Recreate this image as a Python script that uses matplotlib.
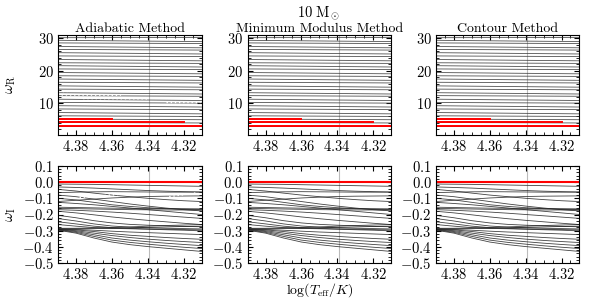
import matplotlib
matplotlib.use("Agg")
import matplotlib.pyplot as plt
from matplotlib.ticker import MultipleLocator

plt.rcParams['font.family'] = 'serif'
plt.rcParams['font.serif'] = ['cmr10']
plt.rcParams['mathtext.fontset'] = 'cm'
plt.rcParams['axes.formatter.use_mathtext'] = True
plt.rcParams['font.size'] = 10.5

methods = ["Adiabatic Method", "Minimum Modulus Method", "Contour Method"]

# log Teff samples (left to right on the inverted axis)
logT = [4.39, 4.38, 4.37, 4.36, 4.35, 4.34, 4.33, 4.32, 4.31]
logT_mark = 4.339

# real part: nearly flat tracks, value at left edge and right edge
wr_left = [30.2, 29.4, 28.6, 27.5, 26.6, 25.6, 24.6, 23.5, 22.5, 21.6, 20.6, 19.5,
           18.5, 17.5, 16.5, 15.4, 14.4, 13.3, 12.4, 11.3, 10.3, 9.3, 8.3, 7.2,
           6.2, 5.2, 4.15, 3.05]
wr_right = [30.3, 29.0, 28.4, 27.1, 26.4, 25.2, 24.4, 23.1, 22.3, 21.2, 20.4, 19.1,
            18.3, 17.1, 16.3, 15.0, 14.2, 12.9, 12.2, 10.9, 10.1, 8.9, 8.1, 6.8,
            6.0, 5.0, 4.0, 3.05]
# red (highlighted) parts of the lowest real-part tracks: value, start, end
wr_red_val = [5.2, 4.15, 3.05]
wr_red_start = [4.39, 4.39, 4.39]
wr_red_end = [4.36, 4.32, 4.31]

# imaginary part tracks sampled at logT
wi_tracks = [
    [-0.012, -0.013, -0.014, -0.016, -0.018, -0.020, -0.022, -0.024, -0.026],
    [-0.030, -0.033, -0.037, -0.042, -0.047, -0.052, -0.056, -0.059, -0.062],
    [-0.045, -0.055, -0.068, -0.080, -0.090, -0.100, -0.108, -0.115, -0.120],
    [-0.065, -0.062, -0.060, -0.059, -0.060, -0.061, -0.062, -0.062, -0.061],
    [-0.080, -0.090, -0.105, -0.120, -0.135, -0.148, -0.160, -0.170, -0.178],
    [-0.120, -0.112, -0.105, -0.098, -0.093, -0.089, -0.087, -0.086, -0.085],
    [-0.100, -0.110, -0.125, -0.140, -0.150, -0.158, -0.164, -0.168, -0.170],
    [-0.125, -0.132, -0.140, -0.150, -0.160, -0.170, -0.180, -0.190, -0.200],
    [-0.155, -0.157, -0.159, -0.161, -0.162, -0.163, -0.164, -0.164, -0.165],
    [-0.162, -0.164, -0.166, -0.168, -0.170, -0.171, -0.172, -0.172, -0.172],
    [-0.170, -0.174, -0.179, -0.185, -0.192, -0.200, -0.208, -0.216, -0.224],
    [-0.180, -0.190, -0.202, -0.215, -0.226, -0.236, -0.245, -0.254, -0.262],
    [-0.205, -0.220, -0.238, -0.252, -0.261, -0.266, -0.270, -0.273, -0.276],
    [-0.225, -0.240, -0.258, -0.271, -0.278, -0.282, -0.285, -0.287, -0.289],
    [-0.245, -0.258, -0.272, -0.281, -0.286, -0.289, -0.291, -0.293, -0.295],
    [-0.262, -0.272, -0.281, -0.286, -0.288, -0.291, -0.294, -0.297, -0.301],
    [-0.285, -0.285, -0.283, -0.280, -0.277, -0.272, -0.268, -0.265, -0.262],
    [-0.288, -0.288, -0.287, -0.285, -0.283, -0.280, -0.277, -0.274, -0.272],
    [-0.290, -0.292, -0.297, -0.303, -0.308, -0.312, -0.316, -0.320, -0.324],
    [-0.290, -0.295, -0.305, -0.318, -0.328, -0.335, -0.342, -0.348, -0.353],
    [-0.292, -0.300, -0.315, -0.330, -0.342, -0.352, -0.360, -0.367, -0.373],
    [-0.293, -0.305, -0.325, -0.345, -0.358, -0.368, -0.377, -0.385, -0.392],
    [-0.295, -0.310, -0.335, -0.358, -0.372, -0.383, -0.393, -0.402, -0.410],
    [-0.297, -0.315, -0.345, -0.370, -0.386, -0.398, -0.408, -0.418, -0.428],
]
wi_red = [0.0] * len(logT)

# white dotted gaps seen only in the adiabatic panels: x0, x1, y0, y1
gap_r = [(4.390, 4.385, 13.9, 13.9), (4.388, 4.355, 12.6, 12.5),
         (4.376, 4.340, 11.5, 11.4), (4.330, 4.311, 10.4, 10.4)]
gap_i = [(4.378, 4.355, -0.095, -0.075), (4.328, 4.312, -0.090, -0.065)]

fig = plt.figure(figsize=(5.98, 3.0), dpi=100)
lefts = [0.097, 0.414, 0.729]
width = 0.240

for i, name in enumerate(methods):
    ax_r = fig.add_axes([lefts[i], 0.55, width, 0.333])
    ax_i = fig.add_axes([lefts[i], 0.123, width, 0.324])

    for a, b in zip(wr_left, wr_right):
        ax_r.plot([logT[0], logT[-1]], [a, b], color='#333333', lw=0.6, alpha=0.85)
    for v, s, e in zip(wr_red_val, wr_red_start, wr_red_end):
        ax_r.plot([s, e], [v, v], color='red', lw=1.4)

    for tr in wi_tracks:
        ax_i.plot(logT, tr, color='#222222', lw=0.6, alpha=0.85)
    ax_i.plot(logT, wi_red, color='red', lw=1.5)

    if i == 0:
        for x0, x1, y0, y1 in gap_r:
            ax_r.plot([x0, x1], [y0, y1], color='white', lw=1.0, ls=(0, (1, 2)))
        for x0, x1, y0, y1 in gap_i:
            ax_i.plot([x0, x1], [y0, y1], color='white', lw=1.0, ls=(0, (1, 2)))

    for ax in (ax_r, ax_i):
        ax.axvline(logT_mark, color='#bbbbbb', lw=0.8, zorder=0)
        ax.set_xlim(4.39, 4.31)
        ax.xaxis.set_major_locator(MultipleLocator(0.02))
        ax.xaxis.set_minor_locator(MultipleLocator(0.005))
        ax.tick_params(which='both', direction='in', top=True, right=True, labelsize=10.5)
        ax.tick_params(which='major', length=3.5, pad=3)
        ax.tick_params(which='minor', length=2)

    ax_r.set_ylim(0.3, 31)
    ax_r.yaxis.set_major_locator(MultipleLocator(10))
    ax_r.yaxis.set_minor_locator(MultipleLocator(2))
    ax_i.set_ylim(-0.5, 0.1)
    ax_i.yaxis.set_major_locator(MultipleLocator(0.1))
    ax_i.yaxis.set_minor_locator(MultipleLocator(0.02))

    ax_r.set_title(name, fontsize=10, pad=2)
    if i == 0:
        ax_r.set_ylabel(r'$\omega_\mathrm{R}$', labelpad=14)
        ax_i.set_ylabel(r'$\omega_\mathrm{I}$', labelpad=3)
    if i == 1:
        ax_i.set_xlabel(r'$\log(T_\mathrm{eff}/K)$', fontsize=10, labelpad=-0.5)

# mass label sits above the middle column
fig.text(0.533, 0.985, r'$10\;\mathrm{M}_\odot$', ha='center', va='top', fontsize=10.5)

fig.savefig('out.png', dpi=100)
